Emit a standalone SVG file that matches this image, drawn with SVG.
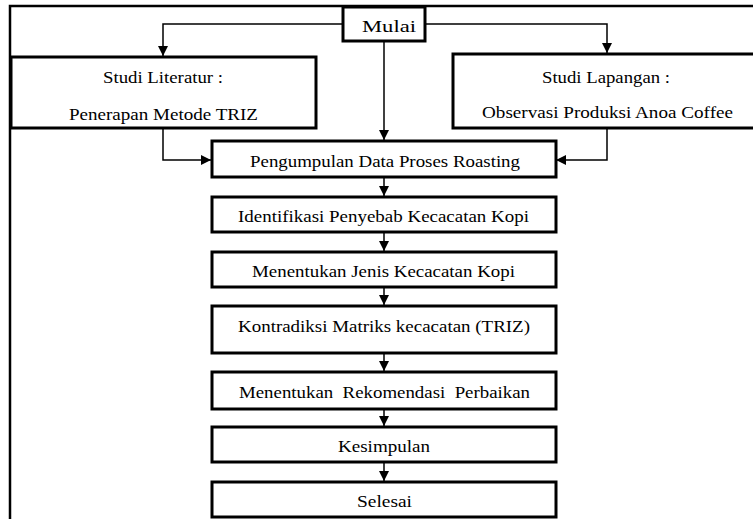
<svg xmlns="http://www.w3.org/2000/svg" width="753" height="519" viewBox="0 0 753 519">
<defs>
<style>
.box{fill:#fff;stroke:#000;stroke-width:3}
.t{font-family:"Liberation Serif","Times New Roman",serif;font-size:17px;fill:#000;text-anchor:middle}
.c{fill:none;stroke:#000;stroke-width:1.5}
.frame{fill:none;stroke:#000;stroke-width:2.5}
.pre{white-space:pre}
</style>
<marker id="ah" viewBox="0 0 10 10" refX="10" refY="5" markerWidth="10" markerHeight="10" markerUnits="userSpaceOnUse" orient="auto">
<path d="M0,0 L10,5 L0,10 Z" fill="#000"/>
</marker>
</defs>
<rect width="753" height="519" fill="#fff"/>
<path class="frame" d="M10,519 V6 H753"/>
<g id="connectors">
<path class="c" d="M343,24 H163 V56" marker-end="url(#ah)"/>
<path class="c" d="M425,24 H607 V53" marker-end="url(#ah)"/>
<path class="c" d="M384,41 V140" marker-end="url(#ah)"/>
<path class="c" d="M163,128 V160 H211" marker-end="url(#ah)"/>
<path class="c" d="M607,128 V160 H556" marker-end="url(#ah)"/>
<path class="c" d="M384,177 V196" marker-end="url(#ah)"/>
<path class="c" d="M384,232 V251" marker-end="url(#ah)"/>
<path class="c" d="M384,287 V305" marker-end="url(#ah)"/>
<path class="c" d="M384,353 V371" marker-end="url(#ah)"/>
<path class="c" d="M384,409 V426" marker-end="url(#ah)"/>
<path class="c" d="M384,462 V481" marker-end="url(#ah)"/>
</g>
<g id="mulai">
<rect class="box" x="343" y="7" width="82" height="34"/>
<text class="t" x="389" y="32" textLength="54" lengthAdjust="spacingAndGlyphs">Mulai</text>
</g>
<g id="studi-literatur">
<rect class="box" x="11" y="57" width="305" height="71"/>
<text class="t" x="163" y="83" textLength="120" lengthAdjust="spacingAndGlyphs">Studi Literatur :</text>
<text class="t" x="163.5" y="120" textLength="189" lengthAdjust="spacingAndGlyphs">Penerapan Metode TRIZ</text>
</g>
<g id="studi-lapangan">
<rect class="box" x="453" y="54" width="310" height="74"/>
<text class="t" x="606" y="83" textLength="128" lengthAdjust="spacingAndGlyphs">Studi Lapangan :</text>
<text class="t" x="607.5" y="118" textLength="251" lengthAdjust="spacingAndGlyphs">Observasi Produksi Anoa Coffee</text>
</g>
<g id="pengumpulan">
<rect class="box" x="212" y="141" width="344" height="36"/>
<text class="t" x="385" y="167" textLength="270" lengthAdjust="spacingAndGlyphs">Pengumpulan Data Proses Roasting</text>
</g>
<g id="identifikasi">
<rect class="box" x="212" y="197" width="344" height="35"/>
<text class="t" x="383.5" y="222" textLength="291" lengthAdjust="spacingAndGlyphs">Identifikasi Penyebab Kecacatan Kopi</text>
</g>
<g id="jenis">
<rect class="box" x="212" y="252" width="344" height="35"/>
<text class="t" x="383.5" y="277" textLength="263" lengthAdjust="spacingAndGlyphs">Menentukan Jenis Kecacatan Kopi</text>
</g>
<g id="kontradiksi">
<rect class="box" x="212" y="306" width="344" height="47"/>
<text class="t" x="384" y="332" textLength="292" lengthAdjust="spacingAndGlyphs">Kontradiksi Matriks kecacatan (TRIZ)</text>
</g>
<g id="rekomendasi">
<rect class="box" x="212" y="372" width="344" height="37"/>
<text class="t pre" x="384.5" y="398" textLength="291" lengthAdjust="spacingAndGlyphs">Menentukan  Rekomendasi  Perbaikan</text>
</g>
<g id="kesimpulan">
<rect class="box" x="212" y="427" width="344" height="35"/>
<text class="t" x="384" y="452" textLength="92" lengthAdjust="spacingAndGlyphs">Kesimpulan</text>
</g>
<g id="selesai">
<rect class="box" x="212" y="482" width="344" height="35"/>
<text class="t" x="384.5" y="507" textLength="55" lengthAdjust="spacingAndGlyphs">Selesai</text>
</g>
</svg>
